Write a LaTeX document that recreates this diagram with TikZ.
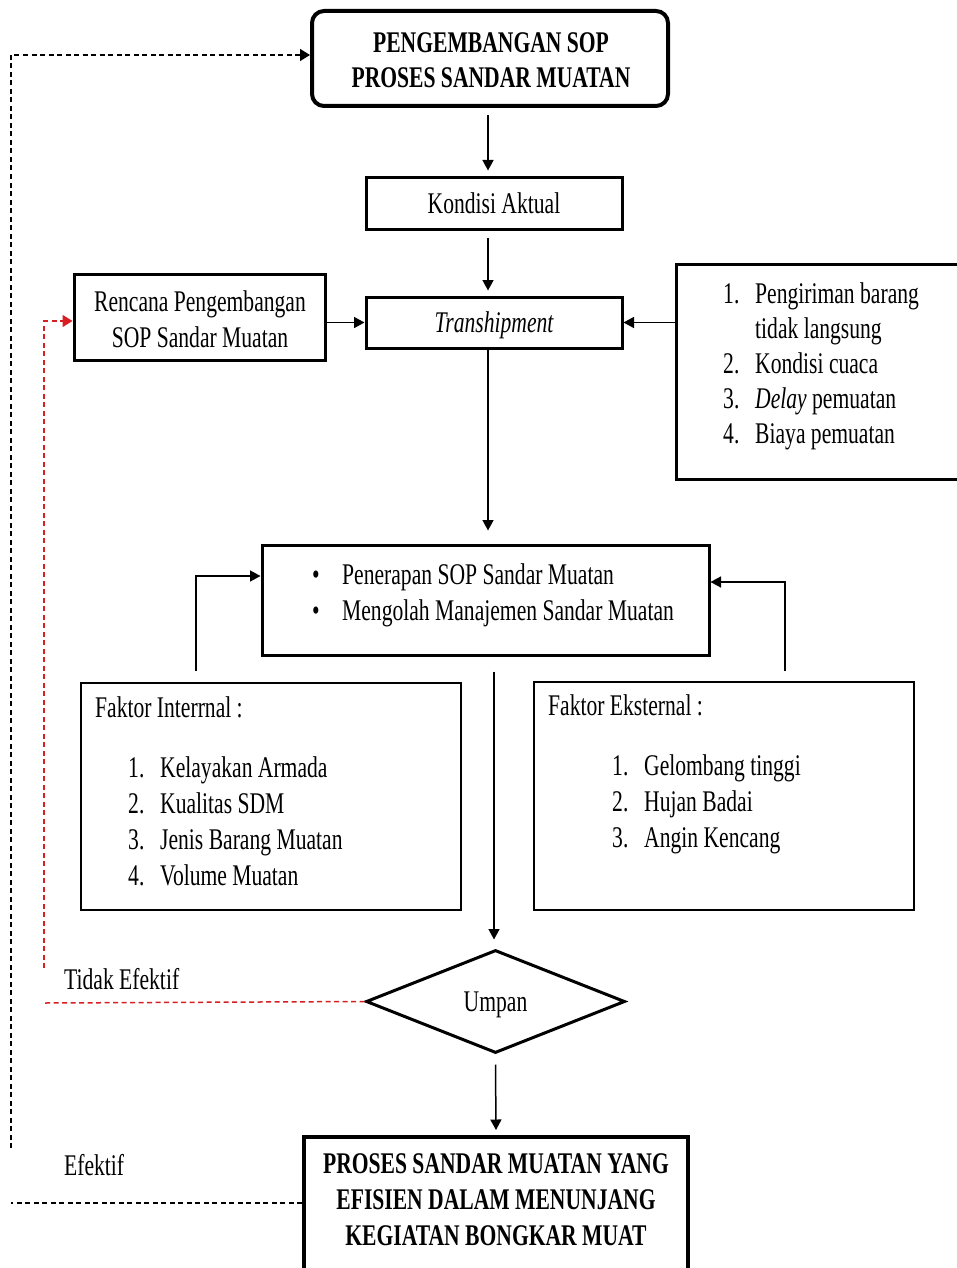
\documentclass[tikz,border=0pt]{standalone}
\usepackage{fontspec}
\setmainfont{Liberation Serif}[FakeStretch=0.72]
\usetikzlibrary{arrows.meta,shapes.geometric}
\definecolor{dred}{RGB}{215,30,35}
\newcommand\itm[2]{\makebox[32pt][l]{#1}#2}
\newcommand\fsz{\fontsize{30}{36}\selectfont}
\begin{document}
\begin{tikzpicture}[x=1pt,y=-1pt,
  every node/.style={font=\fsz, inner sep=0pt},
  boxn/.style={draw, rectangle, line width=3pt},
  thinbox/.style={draw, rectangle, line width=1.4pt},
  txt/.style={anchor=base west},
  ctxt/.style={anchor=base},
  arr/.style={line width=1.5pt, -{Triangle[length=10.5pt,width=11pt]}},
  bdash/.style={line width=1.5pt, dash pattern=on 5pt off 3.5pt},
  rdash/.style={line width=1.5pt, dash pattern=on 5pt off 3.5pt, draw=dred},
  fixt/.style={text height=20pt, text depth=0pt}
]
\useasboundingbox (0,0) rectangle (956,1268);
\fill[white] (0,0) rectangle (956,1268);

% boxes
\node[boxn, line width=4pt, rounded corners=12pt, minimum width=356pt, minimum height=95pt] (title) at (490,58.5) {};
\node[font=\bfseries\fsz, ctxt] (title1) at (491,53) {PENGEMBANGAN SOP};
\node[font=\bfseries\fsz, ctxt] (title2) at (491,88) {PROSES SANDAR MUATAN};

\node[boxn, fixt, minimum width=256pt, minimum height=51pt] (kond) at (494,203.5) {Kondisi Aktual};
\node[boxn, fixt, minimum width=256pt, minimum height=51pt, font=\itshape\fsz] (trans) at (494,322.5) {Transhipment};

\node[boxn, minimum width=251pt, minimum height=86pt] (renc) at (199.5,317) {};
\node[ctxt] (renc1) at (200,311) {Rencana Pengembangan};
\node[ctxt] (renc2) at (200,347) {SOP Sandar Muatan};

\node[boxn, minimum width=289pt, minimum height=215pt] (list) at (820.5,371.5) {};
\node[txt] (l1) at (723,303) {\itm{1.}{Pengiriman barang}};
\node[txt] (l1b) at (755,338) {tidak langsung};
\node[txt] (l2) at (723,373) {\itm{2.}{Kondisi cuaca}};
\node[txt] (l3) at (723,408) {\itm{3.}{\textit{Delay} pemuatan}};
\node[txt] (l4) at (723,443) {\itm{4.}{Biaya pemuatan}};

\node[boxn, minimum width=447pt, minimum height=110pt] (pen) at (485.5,600) {};
\node[txt] (p1) at (312,584) {\makebox[30pt][l]{\textbullet}Penerapan SOP Sandar Muatan};
\node[txt] (p2) at (312,620) {\makebox[30pt][l]{\textbullet}Mengolah Manajemen Sandar Muatan};

\node[thinbox, minimum width=380pt, minimum height=227pt] (fin) at (271,796.5) {};
\node[txt] (fint) at (95,717) {Faktor Interrnal :};
\node[txt] (fi1) at (128,777) {\itm{1.}{Kelayakan Armada}};
\node[txt] (fi2) at (128,813) {\itm{2.}{Kualitas SDM}};
\node[txt] (fi3) at (128,849) {\itm{3.}{Jenis Barang Muatan}};
\node[txt] (fi4) at (128,885) {\itm{4.}{Volume Muatan}};

\node[thinbox, minimum width=380pt, minimum height=228pt] (fex) at (724,796) {};
\node[txt] (fext) at (548,715) {Faktor Eksternal :};
\node[txt] (fe1) at (612,775) {\itm{1.}{Gelombang tinggi}};
\node[txt] (fe2) at (612,811) {\itm{2.}{Hujan Badai}};
\node[txt] (fe3) at (612,847) {\itm{3.}{Angin Kencang}};

\node[draw, diamond, line width=3pt, fixt, minimum width=259pt, minimum height=103pt] (dia) at (495.5,1001.5) {Umpan};

\node[boxn, line width=4pt, minimum width=384pt, minimum height=163pt] (bot) at (496,1218.5) {};
\node[font=\bfseries\fsz, ctxt] (bot1) at (496,1173) {PROSES SANDAR MUATAN YANG};
\node[font=\bfseries\fsz, ctxt] (bot2) at (496,1209) {EFISIEN DALAM MENUNJANG};
\node[font=\bfseries\fsz, ctxt] (bot3) at (496,1245) {KEGIATAN BONGKAR MUAT};

\node[txt] (tidak) at (64,989) {Tidak Efektif};
\node[txt] (efk) at (64,1175) {Efektif};

% connectors
\draw[arr] ([xshift=-2pt,yshift=-7pt]title.south) -- ([xshift=-6pt,yshift=6pt]kond.north);
\draw[arr] ([xshift=-6pt,yshift=-7pt]kond.south) -- ([xshift=-6pt,yshift=5pt]trans.north);
\draw[arr] ([xshift=-6pt]trans.south) -- ([xshift=2.5pt,yshift=13pt]pen.north);
\draw[arr] (renc.east |- trans.west) -- (trans.west);
\draw[arr] (list.west |- trans.east) -- (trans.east);
\draw[arr] ([xshift=-75pt,yshift=11pt]fin.north) |- ([yshift=24pt]pen.west);
\draw[arr] ([xshift=61pt,yshift=10pt]fex.north) |- ([yshift=18pt]pen.east);
\draw[arr] ([xshift=8.5pt,yshift=-15pt]pen.south) -- ([xshift=-1.5pt,yshift=9pt]dia.north);
\draw[arr] ([yshift=-10pt]dia.south) -- ([yshift=5pt]bot.north);

\coordinate (redtop) at (44,968);
\coordinate (redbot) at (44,1003);
\draw[rdash, -{Triangle[length=10pt,width=12pt]}, dred] (redtop) |- ([yshift=-4pt]renc.west);
\draw[rdash] (dia.west) -- (redbot);

\coordinate (blktop) at (11,1148);
\coordinate (blkbot) at (11,1203);
\draw[bdash, -{Triangle[length=10pt,width=12pt]}] (blktop) |- ([yshift=3.5pt]title.west);
\draw[bdash] (bot.west |- blkbot) -- (blkbot);
\end{tikzpicture}
\end{document}
